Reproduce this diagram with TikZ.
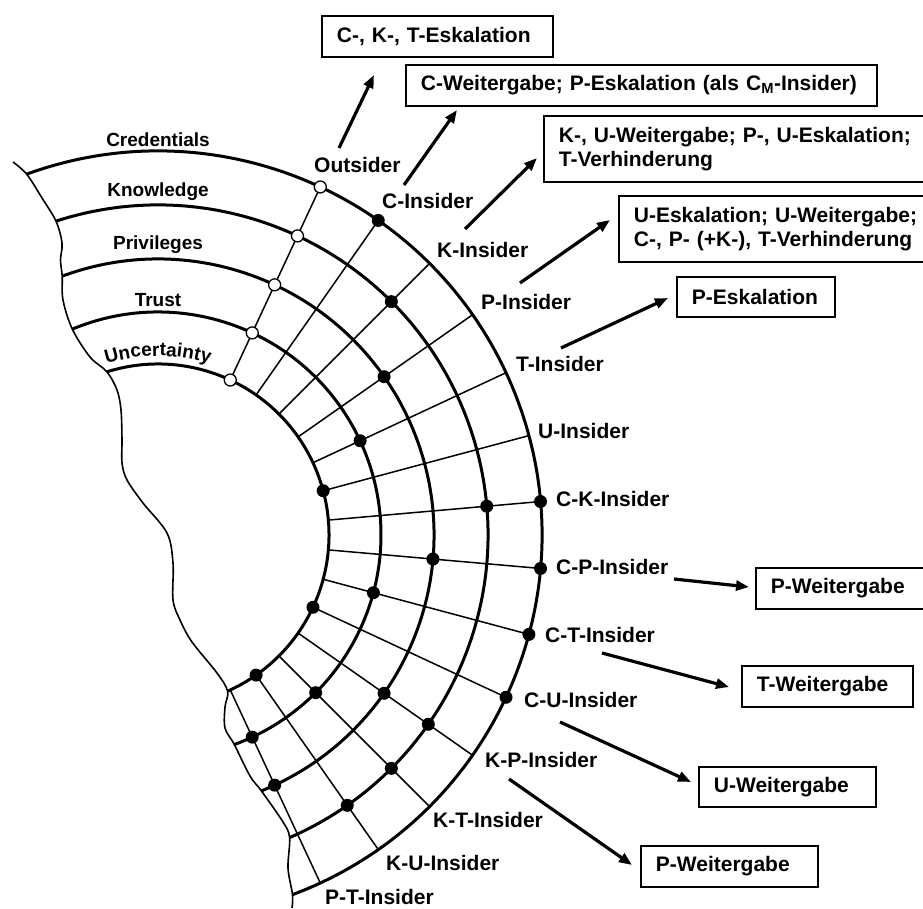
\documentclass[tikz,border=0pt]{standalone}
\usepackage{fontspec}
\setmainfont{Liberation Sans}
\usetikzlibrary{arrows.meta,decorations.text,calc}

\begin{document}
\begin{tikzpicture}[x=1pt,y=1pt,
  ring/.style={line width=3pt},
  spoke/.style={line width=1.5pt},
  edge/.style={line width=1.6pt},
  hit/.style={circle,fill=black,inner sep=0pt,minimum size=13pt},
  miss/.style={circle,draw=black,fill=white,line width=1.3pt,inner sep=0pt,minimum size=12pt},
  lab/.style={font=\fontsize{21pt}{24pt}\selectfont\bfseries,inner sep=0pt,anchor=west},
  ringlab/.style={font=\fontsize{19pt}{22pt}\selectfont\bfseries,inner sep=0pt,anchor=base},
  outcome/.style={draw,line width=1.8pt,anchor=west,inner xsep=15pt,inner ysep=0pt,
    align=left,font=\fontsize{21pt}{23.5pt}\selectfont\bfseries},
  flow/.style={line width=3.2pt,-{Triangle[length=13pt,width=10pt]}}
]
\useasboundingbox (0,0) rectangle (923,908);
\clip (0,0) rectangle (923,908);

% centre of the concentric attribute rings
\coordinate (c) at (158,373);

% radial spokes, one per insider class
\foreach \a in {65,55,...,-65}
  \draw[spoke] ($(c)+(\a:171pt)$) -- ($(c)+(\a:384pt)$);

% attribute rings: Credentials, Knowledge, Privileges, Trust, Uncertainty
\draw[ring] ($(c)+(110:384pt)$)   arc[start angle=110,  end angle=-69.5, radius=384pt];
\draw[ring] ($(c)+(108:330pt)$)   arc[start angle=108,  end angle=-66.5, radius=330pt];
\draw[ring] ($(c)+(110.3:276pt)$) arc[start angle=110.3,end angle=-68,   radius=276pt];
\draw[ring] ($(c)+(112.6:223pt)$) arc[start angle=112.6,end angle=-70,   radius=223pt];
\draw[ring] ($(c)+(107.4:171pt)$) arc[start angle=107.4,end angle=-66,   radius=171pt];

% torn left edge of the ring section
\draw[edge] plot[smooth,tension=0.55] coordinates {
  (13,746) (26.7,733.8) (42,710) (56,686.8) (62,665) (60.5,648) (62.2,631.9)
  (63,608) (72.3,578.9) (90,551) (106.9,536.2) (117,518) (121,498) (122,468)
  (122,445) (127,428) (143,405) (167,375) (173,345) (173,308) (180,288)
  (192,266) (217,235) (227.6,216.8) (225,201) (225,180) (234.3,163.5)
  (250,132) (261.4,117.1) (283,86) (289.6,70.4) (288,40) (292.5,13.3) (292,0)};

% outsider: no attribute held
\foreach \r [count=\i] in {384pt,330pt,276pt,223pt,171pt}
  \node[miss] (out\i) at ($(c)+(65:\r)$) {};

% held attributes of each insider class
\node[hit] (cIn)  at ($(c)+(55:384pt)$) {};
\node[hit] (kIn)  at ($(c)+(45:330pt)$) {};
\node[hit] (pIn)  at ($(c)+(35:276pt)$) {};
\node[hit] (tIn)  at ($(c)+(25:223pt)$) {};
\node[hit] (uIn)  at ($(c)+(15:171pt)$) {};
\node[hit] (ckA)  at ($(c)+(5:384pt)$) {};
\node[hit] (ckB)  at ($(c)+(5:330pt)$) {};
\node[hit] (cpA)  at ($(c)+(-5:384pt)$) {};
\node[hit] (cpB)  at ($(c)+(-5:276pt)$) {};
\node[hit] (ctA)  at ($(c)+(-15:384pt)$) {};
\node[hit] (ctB)  at ($(c)+(-15:223pt)$) {};
\node[hit] (cuA)  at ($(c)+(-25:384pt)$) {};
\node[hit] (cuB)  at ($(c)+(-25:171pt)$) {};
\node[hit] (kpA)  at ($(c)+(-35:330pt)$) {};
\node[hit] (kpB)  at ($(c)+(-35:276pt)$) {};
\node[hit] (ktA)  at ($(c)+(-45:330pt)$) {};
\node[hit] (ktB)  at ($(c)+(-45:223pt)$) {};
\node[hit] (kuA)  at ($(c)+(-55:330pt)$) {};
\node[hit] (kuB)  at ($(c)+(-55:171pt)$) {};
\node[hit] (ptA)  at ($(c)+(-65:276pt)$) {};
\node[hit] (ptB)  at ($(c)+(-65:223pt)$) {};

% ring names
\node[ringlab] (credentials) at (158,761) {Credentials};
\node[ringlab] (knowledge)   at (158,711) {Knowledge};
\node[ringlab] (privileges)  at (158,658) {Privileges};
\node[ringlab] (trust)       at (158,601) {Trust};
\path[decorate,decoration={text along path,text align=center,
  text={|\fontsize{19pt}{22pt}\selectfont\bfseries|Uncertainty}}]
  ($(c)+(130:179pt)$) arc[start angle=130,end angle=50,radius=179pt];

% insider classes
\node[lab] (lOut) at (314,743) {Outsider};
\node[lab] (lC)   at (382,707) {C-Insider};
\node[lab] (lK)   at (437,658) {K-Insider};
\node[lab] (lP)   at (481,606) {P-Insider};
\node[lab] (lT)   at (516,544) {T-Insider};
\node[lab] (lU)   at (538,477) {U-Insider};
\node[lab] (lCK)  at (556,409) {C-K-Insider};
\node[lab] (lCP)  at (556,341) {C-P-Insider};
\node[lab] (lCT)  at (545,273) {C-T-Insider};
\node[lab] (lCU)  at (524,208) {C-U-Insider};
\node[lab] (lKP)  at (485,148) {K-P-Insider};
\node[lab] (lKT)  at (433,88)  {K-T-Insider};
\node[lab] (lKU)  at (386,45)  {K-U-Insider};
\node[lab] (lPT)  at (325,11)  {P-T-Insider};

% resulting threats
\node[outcome,text width=201pt,minimum height=41pt] (b1) at (321,871.5) {\mbox{C-, K-, T-Eskalation}};
\node[outcome,text width=441pt,minimum height=41pt] (b2) at (405,822.5) {\mbox{C-Weitergabe; P-Eskalation (als C\textsubscript{M}-Insider)}};
\node[outcome,text width=390pt,minimum height=66pt] (b3) at (543,759) {K-, U-Weitergabe; P-, U-Eskalation;\\T-Verhinderung};
\node[outcome,text width=315pt,minimum height=66pt] (b4) at (618,679) {U-Eskalation; U-Weitergabe;\\C-, P- (+K-), T-Verhinderung};
\node[outcome,text width=128pt,minimum height=40pt] (b5) at (676,611) {\mbox{P-Eskalation}};
\node[outcome,text width=160pt,minimum height=41pt] (b6) at (755,319.5) {\mbox{P-Weitergabe}};
\node[outcome,text width=141pt,minimum height=41pt] (b7) at (741,221.5) {\mbox{T-Weitergabe}};
\node[outcome,text width=147pt,minimum height=40pt] (b8) at (698,121) {\mbox{U-Weitergabe}};
\node[outcome,text width=147pt,minimum height=41pt] (b9) at (640,41.5) {\mbox{P-Weitergabe}};

% arrow ends
\coordinate (f1s) at (339,760); \coordinate (f1e) at (374,833);
\coordinate (f2s) at (404,723); \coordinate (f2e) at (457,798);
\coordinate (f3s) at (465,679); \coordinate (f3e) at (537,750);
\coordinate (f4s) at (520,625); \coordinate (f4e) at (610,688);
\coordinate (f5s) at (561,560); \coordinate (f5e) at (668,610);
\coordinate (f6s) at (674,329); \coordinate (f6e) at (749,321);
\coordinate (f7s) at (602,255); \coordinate (f7e) at (729,221);
\coordinate (f8s) at (560,186); \coordinate (f8e) at (691,126);
\coordinate (f9s) at (509,129); \coordinate (f9e) at (632,43);
\foreach \k in {1,...,9}
  \draw[flow] (f\k s) -- (f\k e);
\end{tikzpicture}
\end{document}
